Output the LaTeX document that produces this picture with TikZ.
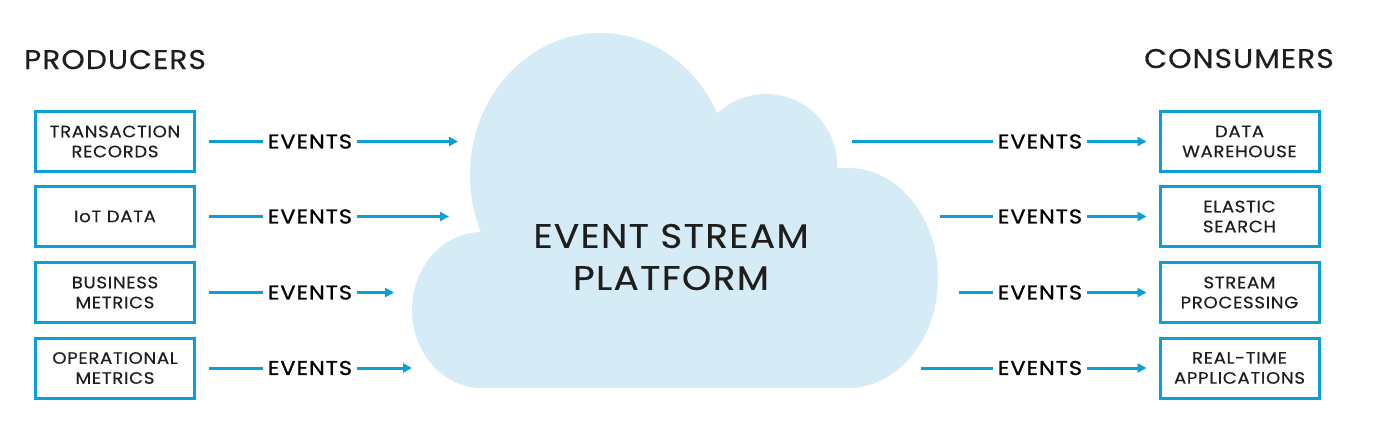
\documentclass[tikz,border=0pt]{standalone}
\usepackage{fontspec}
\setmainfont{Poppins}[FakeStretch=1.1, LetterSpace=4, FakeBold=0.4]
\newfontfamily\evfont{Poppins}[FakeStretch=1.12, LetterSpace=5, FakeBold=1.0]
\usetikzlibrary{arrows.meta}
\definecolor{evblue}{HTML}{0A9FD8}
\definecolor{cloudblue}{HTML}{D5EBF6}
\definecolor{ink}{HTML}{1E1E1E}
\begin{document}
\begin{tikzpicture}[x=1pt,y=-1pt,
  srcbox/.style={draw=evblue, line width=3pt, minimum width=159pt, minimum height=60pt,
    inner sep=0pt, align=center, font=\fontsize{16.5}{20}\selectfont, text=ink},
  evlabel/.style={font=\evfont\fontsize{20}{24}\selectfont, text=black, inner sep=5pt},
  heading/.style={font=\fontsize{27}{32}\selectfont, text=ink, anchor=base},
  feed/.style={draw=evblue, line width=3pt},
  flow/.style={draw=evblue, line width=3pt, -{Triangle[length=9pt,width=9pt]}},
]
\useasboundingbox (0,0) rectangle (1400,442);
\fill[white] (0,0) rectangle (1400,442);

% cloud
\fill[cloudblue] (600,175) ellipse [x radius=130, y radius=142];
\fill[cloudblue] (766,165) circle [radius=71];
\fill[cloudblue] (848,278) ellipse [x radius=90, y radius=110];
\fill[cloudblue] (482,310) ellipse [x radius=70, y radius=78];
\fill[cloudblue] (482,233) rectangle (848,388);
\fill[cloudblue] (600,168) rectangle (848,388);
\node[font=\fontsize{34}{42}\selectfont, text=ink, align=center] (esp) at (671,257) {EVENT STREAM\\PLATFORM};

% headings
\node[heading] (prod) at (115,69) {PRODUCERS};
\node[heading] (cons) at (1239,68) {CONSUMERS};

% producers
\node[srcbox] (p1) at (115,141.5) {TRANSACTION\\RECORDS};
\node[srcbox] (p2) at (115,216.5) {IoT DATA};
\node[srcbox] (p3) at (115,292.5) {BUSINESS\\METRICS};
\node[srcbox] (p4) at (115,368) {OPERATIONAL\\METRICS};

\node[evlabel] (pe1) at (310,141.5) {EVENTS};
\node[evlabel] (pe2) at (310,216.5) {EVENTS};
\node[evlabel] (pe3) at (310,292.5) {EVENTS};
\node[evlabel] (pe4) at (310,368) {EVENTS};

\coordinate (pt1) at (458,141.5);
\coordinate (pt2) at (449,216.5);
\coordinate (pt3) at (394,292.5);
\coordinate (pt4) at (412,368);

\foreach \i in {1,2,3,4}{
  \draw[feed, shorten <=13pt] (p\i) -- (pe\i);
  \draw[flow] (pe\i) -- (pt\i);
}

% consumers
\node[srcbox] (c1) at (1239.5,141.5) {DATA\\WAREHOUSE};
\node[srcbox] (c2) at (1239.5,216.5) {ELASTIC\\SEARCH};
\node[srcbox] (c3) at (1239.5,292.5) {STREAM\\PROCESSING};
\node[srcbox] (c4) at (1239.5,368) {REAL-TIME\\APPLICATIONS};

\node[evlabel] (ce1) at (1040,141.5) {EVENTS};
\node[evlabel] (ce2) at (1040,216.5) {EVENTS};
\node[evlabel] (ce3) at (1040,292.5) {EVENTS};
\node[evlabel] (ce4) at (1040,368) {EVENTS};

\coordinate (cs1) at (852,141.5);
\coordinate (cs2) at (940,216.5);
\coordinate (cs3) at (959,292.5);
\coordinate (cs4) at (921,368);

\foreach \i in {1,2,3,4}{
  \draw[feed] (cs\i) -- (ce\i);
  \draw[flow, shorten >=12pt] (ce\i) -- (c\i);
}
\end{tikzpicture}
\end{document}
